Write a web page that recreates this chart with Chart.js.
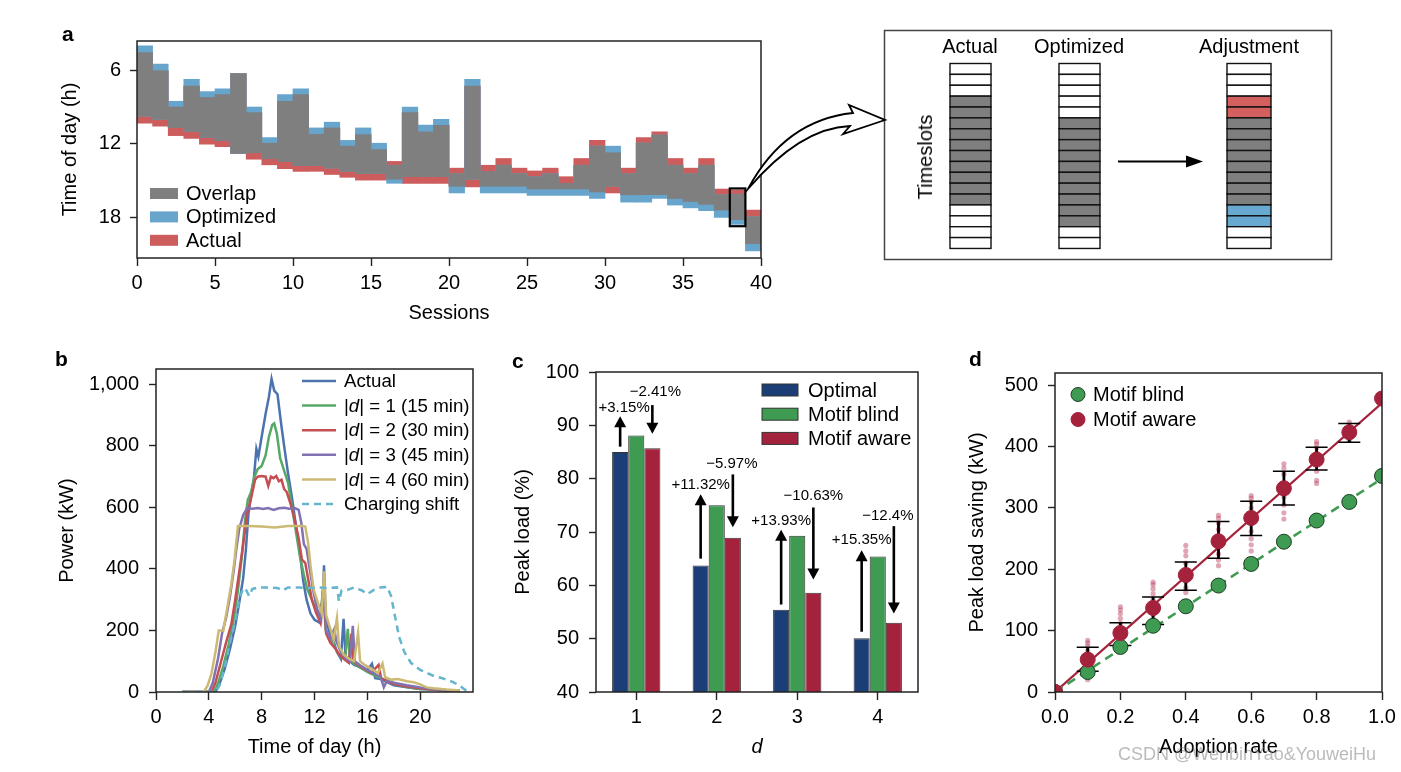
<!DOCTYPE html>
<html><head><meta charset="utf-8">
<script src="https://cdn.jsdelivr.net/npm/chart.js@4.4.1/dist/chart.umd.min.js"></script>
<style>
html,body{margin:0;padding:0;background:#fff;}
#root{position:relative;width:1401px;height:772px;overflow:hidden;font-family:'Liberation Sans',Arial,Helvetica,sans-serif;color:#000;background:#fff;}
canvas.c{position:absolute;}
.t{position:absolute;white-space:nowrap;line-height:1;font-size:20px;transform:translate(-50%,-50%);}
.pl{position:absolute;font-weight:bold;font-size:21px;line-height:20px;}
</style></head><body><div id="root">
<canvas id="ca" class="c" width="730" height="312" style="left:50px;top:20px"></canvas>
<canvas id="cb" class="c" width="440" height="427" style="left:50px;top:345px"></canvas>
<canvas id="cc" class="c" width="440" height="427" style="left:500px;top:345px"></canvas>
<canvas id="cd" class="c" width="456" height="427" style="left:945px;top:345px"></canvas>
<canvas id="ov" width="1401" height="772" style="position:absolute;left:0;top:0;pointer-events:none"></canvas>
<div class="pl" style="left:62px;top:24px">a</div>
<div class="pl" style="left:55px;top:349px">b</div>
<div class="pl" style="left:512px;top:351px">c</div>
<div class="pl" style="left:969px;top:349px">d</div>
<div class="t" style="left:970px;top:46px">Actual</div>
<div class="t" style="left:1079px;top:46px">Optimized</div>
<div class="t" style="left:1249px;top:46px">Adjustment</div>
<div class="t" style="left:925px;top:157px;transform:translate(-50%,-50%) rotate(-90deg)">Timeslots</div>
<div style="position:absolute;left:1118px;top:745px;font-size:18px;line-height:18px;color:rgba(120,120,120,0.5);white-space:nowrap;z-index:5">CSDN @WenbinYao&amp;YouweiHu</div>
</div>
<script>
// ---------------- DATA ----------------
// Panel a: charging sessions (hours of day)
const actualStart = [4.54,6.03,9.0,7.28,8.21,7.98,6.26,9.46,11.96,8.53,7.98,11.23,10.71,12.2,11.26,12.48,13.45,9.46,11.03,10.5,14.0,7.28,13.76,13.21,14.0,14.23,14.0,14.7,13.21,11.73,12.74,14.0,11.5,11.03,13.21,14.0,13.21,15.71,15.79,17.43];
const actualEnd   = [10.32,10.56,11.34,11.57,12.04,12.25,12.8,13.27,13.73,14.05,14.26,14.26,14.52,14.75,14.98,14.98,14.9,15.24,15.24,15.24,15.48,15.53,15.48,15.48,15.48,15.71,15.71,15.71,15.71,15.95,16.03,16.18,16.18,16.18,16.49,16.73,16.96,17.43,18.21,20.17];
const optStart    = [4.0,5.48,8.53,6.73,7.74,7.51,6.26,9.0,11.5,7.98,7.51,10.71,10.24,11.73,10.71,11.96,13.76,9.0,10.48,10.01,14.46,6.73,14.26,13.76,14.46,14.7,14.46,15.24,13.76,12.2,12.2,14.46,11.96,11.29,13.76,14.46,13.76,16.18,16.13,17.98];
const optEnd      = [9.75,10.01,10.69,11.0,11.49,11.76,12.8,12.74,13.21,13.47,13.79,13.79,13.99,14.26,14.44,14.44,15.24,14.7,14.7,14.7,16.03,14.9,16.03,16.03,16.03,16.23,16.23,16.23,16.23,16.47,15.48,16.78,16.78,16.47,17.02,17.25,17.48,18.03,18.6,20.77];
const highlightSession = 38;
const hourTicksA = [6, 12, 18];

// Panel b: power profiles [hour, kW]
const actualPts = [[2,0],[4.5,0],[4.8,25],[5.2,75],[5.6,140],[6.0,215],[6.3,290],[6.6,370],[6.8,460],[7.0,580],[7.2,640],[7.4,690],[7.6,790],[7.75,765],[8.0,830],[8.3,905],[8.55,960],[8.75,1018],[8.95,980],[9.2,968],[9.45,880],[9.7,800],[10.0,710],[10.3,630],[10.6,540],[10.9,450],[11.15,360],[11.4,300],[11.7,255],[12.0,235],[12.4,225],[12.6,270],[12.72,412],[12.85,240],[13.1,200],[13.4,170],[13.7,130],[14.0,108],[14.2,238],[14.35,115],[14.7,100],[15.0,88],[15.5,80],[16.0,70],[16.35,92],[16.6,45],[17.0,42],[17.5,32],[18.0,22],[19.0,15],[20.0,10],[21.0,8],[22.0,5],[23.0,3]];
const d1Pts = [[2,0],[4.4,0],[4.7,28],[5.1,85],[5.5,155],[5.9,240],[6.2,330],[6.5,440],[6.75,560],[6.95,625],[7.2,650],[7.45,700],[7.7,725],[8.0,735],[8.3,770],[8.55,830],[8.8,868],[8.95,873],[9.15,840],[9.4,760],[9.7,720],[10.0,680],[10.3,600],[10.6,520],[10.9,440],[11.2,380],[11.45,335],[11.8,300],[12.1,270],[12.4,235],[12.65,330],[12.85,200],[13.2,170],[13.6,140],[14.0,112],[14.35,120],[14.52,205],[14.68,105],[15.0,92],[15.5,78],[16.0,65],[16.5,55],[17.0,45],[17.5,35],[18.0,25],[19.0,16],[20.0,10],[21.0,8],[22.0,5],[23.0,3]];
const d2Pts = [[2,0],[4.2,0],[4.5,30],[4.9,95],[5.3,160],[5.7,220],[6.0,300],[6.3,390],[6.6,480],[6.9,580],[7.2,630],[7.5,690],[7.7,700],[8.0,702],[8.3,700],[8.5,670],[8.7,700],[8.9,695],[9.1,702],[9.3,685],[9.5,690],[9.7,660],[9.9,650],[10.2,610],[10.5,560],[10.8,500],[11.05,430],[11.3,420],[11.55,360],[11.8,300],[12.1,260],[12.45,225],[12.68,350],[12.88,190],[13.2,160],[13.6,140],[13.9,120],[14.3,105],[14.6,95],[14.8,190],[14.95,100],[15.3,88],[15.8,75],[16.3,62],[16.85,88],[17.05,45],[17.5,35],[18.0,26],[19.0,18],[20.0,12],[21.0,8],[22.0,6],[23.0,3]];
const d3Pts = [[2,0],[4.0,0],[4.3,30],[4.7,110],[5.0,190],[5.3,240],[5.6,310],[5.9,400],[6.1,470],[6.3,530],[6.6,575],[6.9,597],[7.3,596],[7.7,598],[8.1,595],[8.5,598],[8.9,592],[9.3,597],[9.7,599],[10.1,596],[10.5,598],[10.8,592],[11.0,550],[11.2,480],[11.4,465],[11.6,410],[11.9,330],[12.2,270],[12.5,235],[12.72,370],[12.88,200],[13.2,175],[13.5,205],[13.65,165],[14.0,130],[14.3,112],[14.7,100],[14.9,215],[15.05,100],[15.5,85],[16.0,72],[16.5,60],[17.0,50],[17.25,15],[17.5,38],[18.0,30],[19.0,22],[20.0,15],[21.0,10],[22.0,6],[23.0,3]];
const d4Pts = [[2,0],[3.6,0],[3.9,20],[4.2,60],[4.5,130],[4.75,200],[5.1,200],[5.4,275],[5.7,350],[5.95,430],[6.2,540],[7,540],[8,538],[9,535],[10,540],[11,540],[11.3,538],[11.5,490],[11.7,410],[11.95,330],[12.3,285],[12.55,255],[12.72,392],[12.88,250],[13.2,205],[13.45,170],[13.7,240],[13.85,150],[14.2,122],[14.6,108],[15.0,100],[15.3,192],[15.45,100],[15.8,88],[16.3,75],[16.8,62],[17.15,92],[17.35,48],[17.8,40],[18.3,42],[19.0,35],[19.5,32],[20.0,25],[20.5,15],[21.0,12],[22.0,8],[23.0,5]];
const shiftPts = [[2,0],[4.5,0],[4.8,20],[5.2,80],[5.6,160],[6.0,230],[6.3,300],[6.6,338],[6.85,330],[7.05,312],[7.3,335],[7.8,340],[8.5,340],[9.2,338],[9.6,330],[10.0,340],[10.8,340],[11.5,338],[12.3,340],[13.0,338],[13.7,340],[13.85,295],[14.05,330],[14.5,332],[15.0,340],[15.6,330],[16.0,318],[16.5,332],[17.0,340],[17.5,342],[17.8,312],[18.1,245],[18.4,180],[18.8,130],[19.3,95],[20.0,72],[20.5,62],[21.0,53],[21.5,47],[22.0,40],[22.5,32],[23.0,20],[23.5,4]];
const hourTicksB = [0, 4, 8, 12, 16, 20];
const powerTicks = [0, 200, 400, 600, 800, 1000];

// Panel c: peak load (%)
const dLabels = ['1', '2', '3', '4'];
const optimalLoad = [85.0, 63.7, 55.4, 50.1];
const blindLoad   = [88.1, 75.0, 69.3, 65.4];
const awareLoad   = [85.7, 68.9, 58.6, 53.0];
const upLabels   = ['+3.15%', '+11.32%', '+13.93%', '+15.35%'];
const downLabels = ['\u22122.41%', '\u22125.97%', '\u221210.63%', '\u221212.4%'];

// Panel d: peak load saving (kW)
const rates = [0, 0.1, 0.2, 0.3, 0.4, 0.5, 0.6, 0.7, 0.8, 0.9, 1.0];
const blindSaving = [0, 32.6, 73.4, 108, 139.7, 173.5, 208.8, 245, 279.5, 309.8, 352.2];
const awareSaving = [0, 52.8, 96.2, 137, 190.8, 245.7, 283.7, 332, 378.9, 423.4, 478.4];
const awareLow  = [null, 34, 76, 110, 166, 218, 255, 305, 362, 407, null];
const awareHigh = [null, 73, 113, 155, 212, 278, 311, 360, 399, 437.5, null];
const blindFitEnd = 348;
const awareFitEnd = 471;
const trialValues = [[],[20,28,38,45,52,60,68,75,80,84],[80,88,96,104,112,120,128,134,139],[112,125,138,150,160,168,175,179],[162,170,180,190,200,210,222,230,239],[206,215,225,235,245,255,265,275,283,288],[230,240,250,262,275,288,300,310,316,320],[282,292,305,318,330,342,355,365,372],[340,345,360,370,380,390,398,404,408],[410,415,420,425,430,435,440],[]];
const rateTicks = [0, 0.2, 0.4, 0.6, 0.8, 1.0];
const savingTicks = [0, 100, 200, 300, 400, 500];

// Schematic timeslots
const actualSlots    = 'WWWGGGGGGGGGGWWWW';
const optimizedSlots = 'WWWWWGGGGGGGGGGWW';

// ---------------- STYLE ----------------
const FONT = "'Liberation Sans', Arial, Helvetica, sans-serif";
const GRAY = '#7f7f7f', BLUE = '#67a5cc', RED = '#cd5c5c';
const NAVY = '#1b3e76', GREEN = '#3f9a52', CRIMSON = '#a4223b';
Chart.defaults.font.family = FONT;
Chart.defaults.font.size = 20;
Chart.defaults.color = '#000';
Chart.defaults.animation = false;
Chart.defaults.responsive = false;
Chart.defaults.devicePixelRatio = 1;
Chart.defaults.plugins.legend.display = false;
Chart.defaults.plugins.tooltip.enabled = false;

function gridOpts(len) {
  return {display:true, drawOnChartArea:false, drawTicks:true, tickLength:len, tickWidth:1.4, tickColor:'#222', offset:false};
}
function titleOpts(text, pad, italic) {
  return {display:true, text, color:'#000', font:{size:20, style: italic ? 'italic' : 'normal'}, padding:pad};
}

const framePlugin = {
  id: 'frame',
  afterDatasetsDraw(chart) {
    const {ctx, chartArea: a} = chart;
    ctx.save(); ctx.strokeStyle = '#222'; ctx.lineWidth = 1.5;
    ctx.strokeRect(a.left, a.top, a.right - a.left, a.bottom - a.top);
    ctx.restore();
  }
};

const LEGENDS = {};
const legendPlugin = {
  id: 'insideLegend',
  afterDraw(chart) {
    const L = LEGENDS[chart.canvas.id]; if (!L) return;
    const ctx = chart.ctx, ox = chart.canvas.offsetLeft, oy = chart.canvas.offsetTop;
    const fs = L.fs || 20;
    ctx.save(); ctx.textBaseline = 'middle'; ctx.textAlign = 'left';
    L.items.forEach((it, i) => {
      const y = L.y + i * L.dy - oy, x = L.x - ox;
      if (it.kind === 'box') {
        ctx.fillStyle = it.color; ctx.fillRect(x, y - L.bh / 2, L.bw, L.bh);
        if (it.border) { ctx.strokeStyle = it.border; ctx.lineWidth = 1; ctx.strokeRect(x, y - L.bh / 2, L.bw, L.bh); }
      } else if (it.kind === 'line') {
        ctx.strokeStyle = it.color; ctx.lineWidth = 2.5; ctx.setLineDash(it.dash || []);
        ctx.beginPath(); ctx.moveTo(x, y); ctx.lineTo(x + L.bw, y); ctx.stroke(); ctx.setLineDash([]);
      } else if (it.kind === 'circle') {
        ctx.fillStyle = it.color; ctx.strokeStyle = it.border || it.color; ctx.lineWidth = 1;
        ctx.beginPath(); ctx.arc(x, y, L.r, 0, Math.PI * 2); ctx.fill(); ctx.stroke();
      }
      let tx = L.tx - ox; ctx.fillStyle = '#000';
      it.parts.forEach(p => {
        ctx.font = (p.i ? 'italic ' : '') + fs + 'px ' + FONT;
        ctx.fillText(p.t, tx, y + 1); tx += ctx.measureText(p.t).width;
      });
    });
    ctx.restore();
  }
};

// ---------------- PANEL A ----------------
const xa = actualStart.map((_, i) => i + 0.5);
LEGENDS.ca = {x:150, y:193.5, dy:23.4, bw:28, bh:11, tx:186, items:[
  {kind:'box', color:GRAY, parts:[{t:'Overlap'}]},
  {kind:'box', color:BLUE, parts:[{t:'Optimized'}]},
  {kind:'box', color:RED, parts:[{t:'Actual'}]}]};
const highlightPlugin = {
  id: 'highlight',
  afterDatasetsDraw(chart) {
    const {ctx} = chart, x = chart.scales.x, y = chart.scales.y, i = highlightSession;
    const t = Math.min(actualStart[i], optStart[i]) - 0.13, b = Math.max(actualEnd[i], optEnd[i]) + 0.15;
    const x0 = x.getPixelForValue(i), x1 = x.getPixelForValue(i + 1);
    const y0 = y.getPixelForValue(t), y1 = y.getPixelForValue(b);
    ctx.save(); ctx.strokeStyle = '#000'; ctx.lineWidth = 2.2; ctx.strokeRect(x0, y0, x1 - x0, y1 - y0); ctx.restore();
  }
};
new Chart(document.getElementById('ca'), {
  type: 'bar',
  data: { datasets: [
    {label:'Overlap', data: xa.map((x, i) => ({x, y:[Math.max(actualStart[i], optStart[i]), Math.min(actualEnd[i], optEnd[i])]})), backgroundColor: GRAY},
    {label:'Optimized', data: xa.map((x, i) => ({x, y:[optStart[i], optEnd[i]]})), backgroundColor: BLUE},
    {label:'Actual', data: xa.map((x, i) => ({x, y:[actualStart[i], actualEnd[i]]})), backgroundColor: RED}
  ]},
  options: {
    layout: {padding:{left:4, top:11, right:19, bottom:0}},
    datasets: {bar: {grouped:false, barPercentage:1, categoryPercentage:1, borderWidth:0}},
    scales: {
      x: {type:'linear', min:0, max:40, offset:false, grid:gridOpts(8), border:{display:false},
          ticks:{stepSize:5, padding:5, maxRotation:0, autoSkip:false, font:{size:20}},
          title: titleOpts('Sessions', {top:0, bottom:7}), afterFit: s => { s.height = 74; }},
      y: {type:'linear', reverse:true, min:3.6, max:21.35, grid:gridOpts(7), border:{display:false},
          ticks:{padding:9, font:{size:20}, callback: v => String(v)},
          afterBuildTicks: s => { s.ticks = hourTicksA.map(v => ({value:v})); },
          title: titleOpts('Time of day (h)', {top:4, bottom:0}), afterFit: s => { s.width = 83; }}
    }
  },
  plugins: [framePlugin, highlightPlugin, legendPlugin]
});

// ---------------- PANEL B ----------------
const dLeg = n => [{t:'|'}, {t:'d', i:true}, {t:'| = ' + n}];
LEGENDS.cb = {x:302, y:381, dy:24.6, bw:34, tx:344, fs:18.7, items:[
  {kind:'line', color:'#4c72b0', parts:[{t:'Actual'}]},
  {kind:'line', color:'#55a868', parts:dLeg('1 (15 min)')},
  {kind:'line', color:'#c44e52', parts:dLeg('2 (30 min)')},
  {kind:'line', color:'#8172b2', parts:dLeg('3 (45 min)')},
  {kind:'line', color:'#ccb974', parts:dLeg('4 (60 min)')},
  {kind:'line', color:'#64b5cd', dash:[7,5], parts:[{t:'Charging shift'}]}]};
const lineDs = (label, data, color, order, dash) => ({label, data, borderColor:color, borderWidth:2.5, pointRadius:0, tension:0, fill:false, order, borderDash: dash || [], clip:0});
new Chart(document.getElementById('cb'), {
  type: 'line',
  data: { datasets: [
    lineDs('Actual', actualPts, '#4c72b0', 6),
    lineDs('|d| = 1 (15 min)', d1Pts, '#55a868', 5),
    lineDs('|d| = 2 (30 min)', d2Pts, '#c44e52', 4),
    lineDs('|d| = 3 (45 min)', d3Pts, '#8172b2', 3),
    lineDs('|d| = 4 (60 min)', d4Pts, '#ccb974', 2),
    lineDs('Charging shift', shiftPts, '#64b5cd', 1, [7,5])
  ]},
  options: {
    layout: {padding:{left:4, top:24, right:17, bottom:0}},
    scales: {
      x: {type:'linear', min:0, max:24, grid:gridOpts(8), border:{display:false},
          ticks:{padding:5, maxRotation:0, autoSkip:false, font:{size:20}, callback: v => String(v)},
          afterBuildTicks: s => { s.ticks = hourTicksB.map(v => ({value:v})); },
          title: titleOpts('Time of day (h)', {top:0, bottom:13}), afterFit: s => { s.height = 80; }},
      y: {type:'linear', min:0, max:1050, grid:gridOpts(7), border:{display:false},
          ticks:{padding:10, font:{size:20}, callback: v => v.toLocaleString('en-US')},
          afterBuildTicks: s => { s.ticks = powerTicks.map(v => ({value:v})); },
          title: titleOpts('Power (kW)', {top:1, bottom:0}), afterFit: s => { s.width = 102; }}
    }
  },
  plugins: [framePlugin, legendPlugin]
});

// ---------------- PANEL C ----------------
const upFrom = [86.0, 65.0, 56.4, 51.3], upTo = [91.7, 77.1, 70.4, 66.6], upLabelAt = [93.2, 78.8, 72.0, 68.6], upDx = [4, 0, 0, 0];
const downFrom = [93.8, 80.8, 74.6, 71.1], downTo = [88.4, 70.9, 61.1, 54.7], downLabelAt = [96.3, 82.8, 76.7, 73.1], downDx = [3, -1, 0, -6];
function drawArrow(ctx, x, y0, y1) {
  const dir = Math.sign(y1 - y0), hl = 11, hw = 6;
  ctx.beginPath(); ctx.moveTo(x, y0); ctx.lineTo(x, y1 - dir * hl * 0.7); ctx.stroke();
  ctx.beginPath(); ctx.moveTo(x, y1); ctx.lineTo(x - hw, y1 - dir * hl); ctx.lineTo(x + hw, y1 - dir * hl); ctx.closePath(); ctx.fill();
}
const arrowsPlugin = {
  id: 'arrowsC',
  afterDatasetsDraw(chart) {
    const {ctx} = chart, y = chart.scales.y;
    const mO = chart.getDatasetMeta(0), mA = chart.getDatasetMeta(2);
    ctx.save(); ctx.fillStyle = '#000'; ctx.strokeStyle = '#000'; ctx.lineWidth = 2.6;
    ctx.font = '15px ' + FONT; ctx.textAlign = 'center'; ctx.textBaseline = 'middle';
    for (let i = 0; i < dLabels.length; i++) {
      const xu = mO.data[i].x, xd = mA.data[i].x;
      drawArrow(ctx, xu, y.getPixelForValue(upFrom[i]), y.getPixelForValue(upTo[i]));
      drawArrow(ctx, xd, y.getPixelForValue(downFrom[i]), y.getPixelForValue(downTo[i]));
      ctx.fillText(upLabels[i], xu + upDx[i], y.getPixelForValue(upLabelAt[i]));
      ctx.fillText(downLabels[i], xd + downDx[i], y.getPixelForValue(downLabelAt[i]));
    }
    ctx.restore();
  }
};
LEGENDS.cc = {x:762, y:390, dy:24.2, bw:36, bh:12, tx:808, items:[
  {kind:'box', color:NAVY, border:'#333', parts:[{t:'Optimal'}]},
  {kind:'box', color:GREEN, border:'#333', parts:[{t:'Motif blind'}]},
  {kind:'box', color:CRIMSON, border:'#333', parts:[{t:'Motif aware'}]}]};
new Chart(document.getElementById('cc'), {
  type: 'bar',
  data: { labels: dLabels, datasets: [
    {label:'Optimal', data: optimalLoad, backgroundColor: NAVY},
    {label:'Motif blind', data: blindLoad, backgroundColor: GREEN},
    {label:'Motif aware', data: awareLoad, backgroundColor: CRIMSON}
  ]},
  options: {
    layout: {padding:{left:4, top:27, right:22, bottom:0}},
    datasets: {bar: {barPercentage:1, categoryPercentage:0.6, borderWidth:1, borderColor:'#333', borderSkipped:'start'}},
    scales: {
      x: {type:'category', offset:true, grid:gridOpts(8), border:{display:false},
          ticks:{padding:5, maxRotation:0, font:{size:20}},
          title: titleOpts('d', {top:0, bottom:13}, true), afterFit: s => { s.height = 80; }},
      y: {type:'linear', min:40, max:100, grid:gridOpts(7), border:{display:false},
          ticks:{stepSize:10, padding:10, font:{size:20}},
          title: titleOpts('Peak load (%)', {top:7, bottom:0}), afterFit: s => { s.width = 92; }}
    }
  },
  plugins: [framePlugin, arrowsPlugin, legendPlugin]
});

// ---------------- PANEL D ----------------
const trialPts = [];
trialValues.forEach((vals, i) => vals.forEach(v => trialPts.push({x: rates[i], y: v})));
const errPlugin = {
  id: 'errbars',
  afterDatasetDraw(chart, args) {
    if (args.meta.index !== 3) return;
    const {ctx} = chart, x = chart.scales.x, y = chart.scales.y;
    ctx.save(); ctx.strokeStyle = '#000';
    rates.forEach((r, i) => {
      if (awareLow[i] == null) return;
      const px = x.getPixelForValue(r), yl = y.getPixelForValue(awareLow[i]), yh = y.getPixelForValue(awareHigh[i]);
      ctx.lineWidth = 2.8; ctx.beginPath(); ctx.moveTo(px, yl); ctx.lineTo(px, yh); ctx.stroke();
      ctx.lineWidth = 1.5; ctx.beginPath();
      ctx.moveTo(px - 11, yl); ctx.lineTo(px + 11, yl); ctx.moveTo(px - 11, yh); ctx.lineTo(px + 11, yh); ctx.stroke();
    });
    ctx.restore();
  }
};
LEGENDS.cd = {x:1078, y:394.5, dy:25, r:7, tx:1093, items:[
  {kind:'circle', color:GREEN, border:'#1d3d24', parts:[{t:'Motif blind'}]},
  {kind:'circle', color:CRIMSON, border:CRIMSON, parts:[{t:'Motif aware'}]}]};
new Chart(document.getElementById('cd'), {
  type: 'scatter',
  data: { datasets: [
    {label:'Motif aware', data: rates.map((r, i) => ({x:r, y:awareSaving[i]})), backgroundColor: CRIMSON, borderColor: CRIMSON, borderWidth:1, pointRadius:7.5, order:1, clip:0},
    {label:'Motif blind', data: rates.map((r, i) => ({x:r, y:blindSaving[i]})), backgroundColor: GREEN, borderColor:'#1d3d24', borderWidth:1, pointRadius:7.5, order:2, clip:0},
    {label:'aware fit', data: [{x:0, y:0}, {x:1, y:awareFitEnd}], showLine:true, borderColor: CRIMSON, borderWidth:2.2, pointRadius:0, order:4, clip:0},
    {label:'blind fit', data: [{x:0, y:0}, {x:1, y:blindFitEnd}], showLine:true, borderColor: GREEN, borderWidth:2.6, borderDash:[9,6], pointRadius:0, order:3, clip:0},
    {label:'trials', data: trialPts, backgroundColor:'rgba(185,60,90,0.45)', borderWidth:0, pointRadius:2.6, order:6, clip:0}
  ]},
  options: {
    layout: {padding:{left:4, top:28, right:19, bottom:0}},
    scales: {
      x: {type:'linear', min:0, max:1, grid:gridOpts(8), border:{display:false},
          ticks:{padding:5, maxRotation:0, autoSkip:false, font:{size:20}, callback: v => Number(v).toFixed(1)},
          afterBuildTicks: s => { s.ticks = rateTicks.map(v => ({value:v})); },
          title: titleOpts('Adoption rate', {top:0, bottom:13}), afterFit: s => { s.height = 80; }},
      y: {type:'linear', min:0, max:520, grid:gridOpts(7), border:{display:false},
          ticks:{padding:10, font:{size:20}, callback: v => String(v)},
          afterBuildTicks: s => { s.ticks = savingTicks.map(v => ({value:v})); },
          title: titleOpts('Peak load saving (kW)', {top:16, bottom:0}), afterFit: s => { s.width = 106; }}
    }
  },
  plugins: [framePlugin, errPlugin, legendPlugin]
});

// ---------------- SCHEMATIC & ARROWS ----------------
(function () {
  const ctx = document.getElementById('ov').getContext('2d');
  ctx.strokeStyle = '#444'; ctx.lineWidth = 1.5;
  ctx.strokeRect(884.5, 30.5, 447, 229);
  const adj = actualSlots.split('').map((a, i) => {
    const o = optimizedSlots[i];
    if (a === 'G' && o === 'G') return 'G';
    if (a === 'G') return 'R';
    if (o === 'G') return 'B';
    return 'W';
  }).join('');
  const fills = {W:'#fff', G:GRAY, R:'#d45f5f', B:'#67a9d1'};
  const cols = [{x:950, w:41, s:actualSlots}, {x:1059, w:41, s:optimizedSlots}, {x:1227, w:44, s:adj}];
  const top = 63.5, sh = 10.88;
  cols.forEach(c => {
    for (let i = 0; i < c.s.length; i++) {
      const y = top + i * sh;
      ctx.fillStyle = fills[c.s[i]]; ctx.fillRect(c.x, y, c.w, sh);
      ctx.strokeStyle = '#111'; ctx.lineWidth = 1.4; ctx.strokeRect(c.x, y, c.w, sh);
    }
  });
  ctx.strokeStyle = '#000'; ctx.fillStyle = '#000'; ctx.lineWidth = 2;
  ctx.beginPath(); ctx.moveTo(1118, 161.5); ctx.lineTo(1190, 161.5); ctx.stroke();
  ctx.beginPath(); ctx.moveTo(1203, 161.5); ctx.lineTo(1186, 155.5); ctx.lineTo(1186, 167.5); ctx.closePath(); ctx.fill();
  ctx.beginPath();
  ctx.moveTo(748, 189);
  ctx.quadraticCurveTo(785, 120, 853, 113);
  ctx.lineTo(849, 105);
  ctx.lineTo(885, 120);
  ctx.lineTo(843, 134);
  ctx.lineTo(850, 126);
  ctx.quadraticCurveTo(800, 128, 748, 189);
  ctx.closePath();
  ctx.fillStyle = '#fff'; ctx.fill();
  ctx.strokeStyle = '#000'; ctx.lineWidth = 1.8; ctx.lineJoin = 'miter'; ctx.stroke();
})();
</script>
</body></html>
